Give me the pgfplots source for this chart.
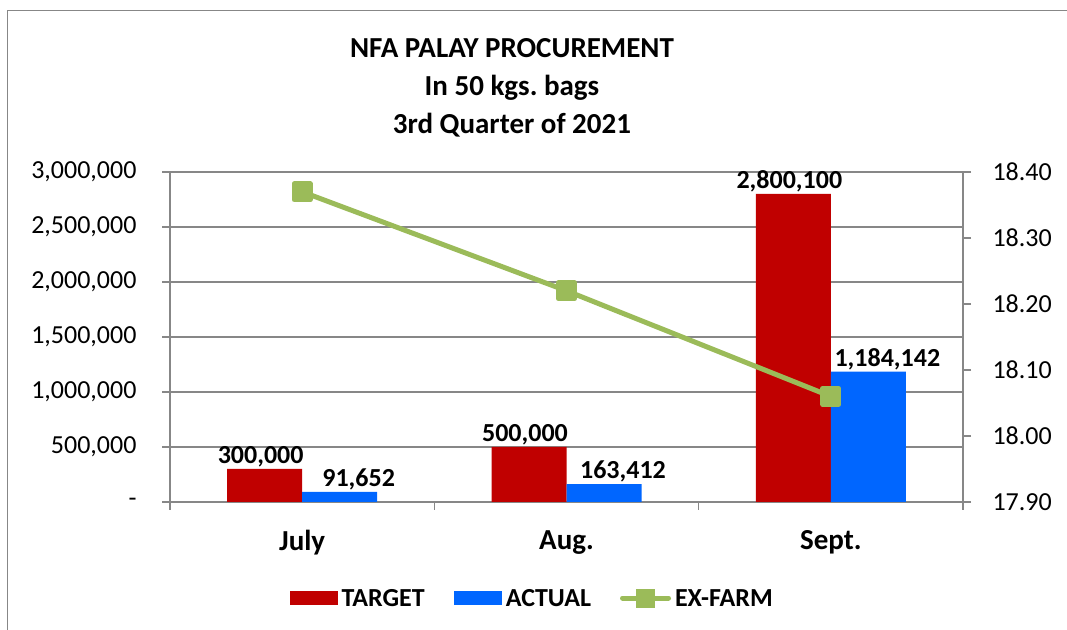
\documentclass[border=0pt]{standalone}
\usepackage{fontspec}
\setmainfont{Carlito}
\usepackage{pgfplots}
\pgfplotsset{compat=1.18}
\definecolor{tgt}{HTML}{C00000}
\definecolor{act}{HTML}{0066FF}
\definecolor{exf}{HTML}{9BBB59}
\definecolor{gridc}{HTML}{878787}
\frenchspacing
\begin{document}
\begin{tikzpicture}[x=1bp,y=1bp]
\path[use as bounding box] (0,0) rectangle (1067,630);
\draw[gridc, line width=1.5bp] (7.5,0) -- (7.5,619.5) -- (1067,619.5);
\node[align=center, font=\fontsize{29bp}{38bp}\selectfont\bfseries] at (512,542) {NFA PALAY PROCUREMENT\\In 50 kgs.\ bags\\3rd Quarter of 2021};
\begin{axis}[
  at={(170bp,128bp)}, anchor=south west,
  width=793bp, height=330bp, scale only axis,
  clip=false,
  xmin=-0.5, xmax=2.5, ymin=0, ymax=3000000,
  ybar=0pt, bar width=75bp,
  axis lines*=left,
  axis line style={draw=gridc, line width=1.5bp},
  ymajorgrids, grid style={draw=gridc, line width=1.5bp},
  ytick={0,500000,1000000,1500000,2000000,2500000,3000000},
  yticklabels={{-},{500,000},{1,000,000},{1,500,000},{2,000,000},{2,500,000},{3,000,000}},
  scaled y ticks=false,
  tick align=outside, major tick length=8bp,
  tick style={draw=gridc, line width=1.5bp},
  yticklabel style={font=\fontsize{26bp}{30bp}\selectfont, xshift=-22bp},
  xtick={-0.5,0.5,1.5,2.5}, xticklabels={},
  extra x ticks={0,1,2}, extra x tick labels={July,Aug.,Sept.},
  extra x tick style={major tick length=0pt, tick style={draw=none},
    xticklabel style={font=\fontsize{29bp}{34bp}\selectfont\bfseries, yshift=-25bp}},
  legend style={at={(0.458,-0.294)}, anchor=center, draw=none, fill=none,
    legend columns=3, inner sep=0pt,
    font=\fontsize{26bp}{30bp}\selectfont\bfseries,
    nodes={inner sep=4bp},
    /tikz/every even column/.append style={column sep=25bp}},
  point meta=explicit symbolic,
  nodes near coords,
  every node near coord/.append style={font=\fontsize{26bp}{30bp}\selectfont\bfseries, inner sep=2bp, text=black},
]
\addplot[fill=tgt, draw=none,
  every node near coord/.append style={xshift=-4bp},
  legend image code/.code={\fill[tgt] (0bp,-6bp) rectangle (48bp,8bp);}]
  coordinates {(0,300000) [300,000] (1,500000) [500,000] (2,2800100) [2,800,100]};
\addlegendentry{TARGET}
\addplot[fill=act, draw=none,
  every node near coord/.append style={xshift=19bp},
  legend image code/.code={\fill[act] (0bp,-6bp) rectangle (48bp,8bp);}]
  coordinates {(0,91652) [91,652] (1,163412) [163,412] (2,1184142) [1,184,142]};
\addlegendentry{ACTUAL}
\addlegendimage{exf, line width=5bp,
  legend image code/.code={\draw[exf, line width=5bp, line cap=round] (2.5bp,1bp) -- (48.5bp,1bp); \fill[exf] (18.5bp,-6bp) rectangle (32.5bp,8bp);}}
\addlegendentry{EX-FARM}
\end{axis}
\begin{axis}[
  at={(170bp,128bp)}, anchor=south west,
  width=793bp, height=330bp, scale only axis,
  clip=false,
  xmin=-0.5, xmax=2.5, ymin=17.9, ymax=18.4,
  axis y line*=right, axis x line=none,
  axis line style={draw=gridc, line width=1.5bp},
  ytick={17.9,18.0,18.1,18.2,18.3,18.4},
  yticklabels={17.90,18.00,18.10,18.20,18.30,18.40},
  tick align=outside, major tick length=8bp,
  tick style={draw=gridc, line width=1.5bp},
  yticklabel style={font=\fontsize{26bp}{30bp}\selectfont, xshift=18bp},
]
\addplot[exf, line width=5bp, mark=square*, mark size=8bp, line join=round,
  mark options={draw=none, fill=exf}]
  coordinates {(0,18.37) (1,18.22) (2,18.06)};
\end{axis}
\end{tikzpicture}
\end{document}
